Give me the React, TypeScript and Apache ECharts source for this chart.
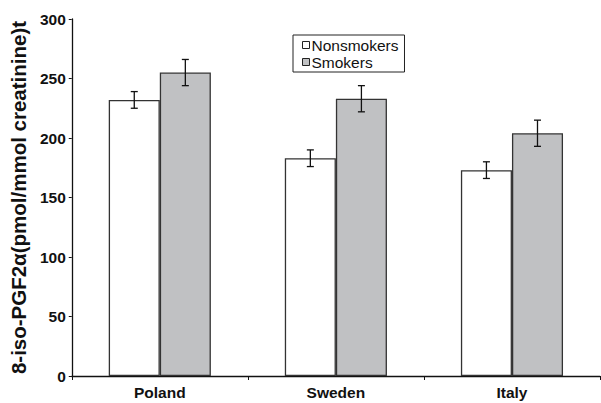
import React, { useEffect, useRef } from "react";
import * as echarts from "echarts";

const categories = ["Poland", "Sweden", "Italy"];
const nonsmokers = [232, 183, 173];
const nonsmokersErr = [7, 7, 7];
const smokers = [255, 233, 204];
const smokersErr = [11, 11, 11];
const yTicks = [0, 50, 100, 150, 200, 250, 300];

const FONT = "Liberation Sans, Arial, sans-serif";
const BAR_GAP_FRAC = 0.42;

function errSeries(name: string, vals: number[], errs: number[], side: number) {
  return {
    type: "custom",
    name: name + "-err",
    z: 5,
    silent: true,
    data: vals.map((v, i) => [i, v - errs[i], v + errs[i]]),
    renderItem: (params: any, api: any) => {
      const idx = api.value(0);
      const lo = api.coord([idx, api.value(1)]);
      const hi = api.coord([idx, api.value(2)]);
      const band = api.size([1, 0])[0];
      const barW = (band * (1 - BAR_GAP_FRAC)) / 2;
      const x = lo[0] + side * barW / 2;
      const cap = 3.5;
      const style = { stroke: "#111", lineWidth: 1.3 };
      return {
        type: "group",
        children: [
          { type: "line", shape: { x1: x, y1: lo[1], x2: x, y2: hi[1] }, style },
          { type: "line", shape: { x1: x - cap, y1: lo[1], x2: x + cap, y2: lo[1] }, style },
          { type: "line", shape: { x1: x - cap, y1: hi[1], x2: x + cap, y2: hi[1] }, style },
        ],
      };
    },
  };
}

export default function App() {
  const ref = useRef<HTMLDivElement>(null);
  useEffect(() => {
    const chart = echarts.init(ref.current!, null, { renderer: "svg" });
    chart.setOption({
      animation: false,
      backgroundColor: "#fff",
      grid: { left: 70, right: 1, top: 19, bottom: 27, containLabel: false },
      legend: {
        orient: "vertical",
        left: 293,
        top: 35,
        data: ["Nonsmokers", "Smokers"],
        icon: "rect",
        itemWidth: 7,
        itemHeight: 7,
        itemGap: 1,
        padding: [2, 6, 2, 9],
        borderColor: "#222",
        borderWidth: 1,
        itemStyle: { borderColor: "#222", borderWidth: 1 },
        textStyle: { fontFamily: FONT, fontSize: 15.5, color: "#111", padding: [0, 0, 0, -3] },
      },
      xAxis: {
        type: "category",
        data: categories,
        axisLine: { lineStyle: { color: "#111", width: 1.3 } },
        axisTick: { show: true, length: 4, inside: false, lineStyle: { color: "#111" } },
        axisLabel: { fontFamily: FONT, fontWeight: "bold", fontSize: 15.5, color: "#111", margin: 8 },
      },
      yAxis: {
        type: "value",
        min: yTicks[0],
        max: yTicks[yTicks.length - 1],
        interval: 50,
        name: "8-iso-PGF2α(pmol/mmol creatinine)t",
        nameLocation: "middle",
        nameGap: 42,
        nameTextStyle: { fontFamily: FONT, fontWeight: "bold", fontSize: 20.5, color: "#111" },
        splitLine: { show: false },
        axisLine: { show: true, lineStyle: { color: "#111", width: 1.3 } },
        axisTick: { show: true, length: 3, lineStyle: { color: "#111" } },
        axisLabel: { fontFamily: FONT, fontWeight: "bold", fontSize: 15.5, color: "#111", margin: 6 },
      },
      series: [
        {
          type: "bar",
          name: "Nonsmokers",
          data: nonsmokers,
          barGap: "0%",
          barCategoryGap: BAR_GAP_FRAC * 100 + "%",
          itemStyle: { color: "#ffffff", borderColor: "#333", borderWidth: 1.3 },
        },
        {
          type: "bar",
          name: "Smokers",
          data: smokers,
          barGap: "0%",
          barCategoryGap: BAR_GAP_FRAC * 100 + "%",
          itemStyle: { color: "#c0c1c3", borderColor: "#333", borderWidth: 1.3 },
        },
        errSeries("Nonsmokers", nonsmokers, nonsmokersErr, -1),
        errSeries("Smokers", smokers, smokersErr, 1),
      ],
    });
    return () => chart.dispose();
  }, []);
  return <div ref={ref} style={{ width: 601, height: 403, position: "absolute", left: 0, top: 0 }} />;
}
